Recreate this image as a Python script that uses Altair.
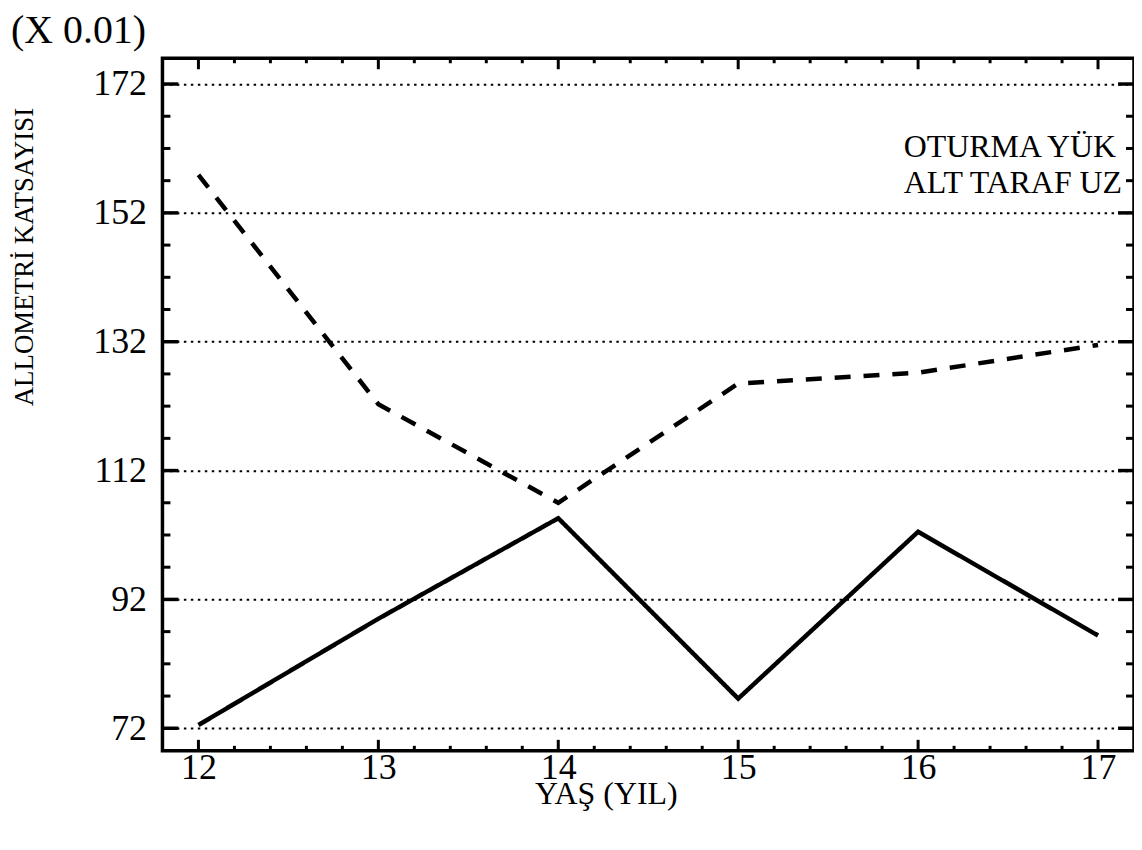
import altair as alt
import pandas as pd

# ---- data ----
ages = [12, 13, 14, 15, 16, 17]
oturma_yuk = [72.5, 89.0, 104.6, 76.6, 102.5, 86.4]      # solid line
alt_taraf_uz = [157.9, 122.3, 107.0, 125.5, 127.2, 131.5]  # dashed line
series_names = ["OTURMA YÜK", "ALT TARAF UZ"]

y_major = [72, 92, 112, 132, 152, 172]
y_minor = [77, 82, 87, 97, 102, 107, 117, 122, 127, 137, 142, 147,
           157, 162, 167]
x_major = [12, 13, 14, 15, 16, 17]
x_minor = [12.2, 12.4, 12.6, 12.8, 13.2, 13.4, 13.6, 13.8, 14.2, 14.4, 14.6, 14.8,
           15.2, 15.4, 15.6, 15.8, 16.2, 16.4, 16.6, 16.8]

X_DOMAIN = [11.8, 17.2]
Y_DOMAIN = [68.5, 176]
W, H = 975, 695
FONT = "Liberation Serif"

rows = []
for a, v in zip(ages, oturma_yuk):
    rows.append({"age": a, "value": v, "series": series_names[0]})
for a, v in zip(ages, alt_taraf_uz):
    rows.append({"age": a, "value": v, "series": series_names[1]})
df = pd.DataFrame(rows)


def xs():
    return alt.Scale(domain=X_DOMAIN, nice=False, zero=False)


def ys():
    return alt.Scale(domain=Y_DOMAIN, nice=False, zero=False)


# main layer: lines, labels, titles, dotted grid
main = alt.Chart(df).mark_line(color="black", strokeWidth=4.5).encode(
    x=alt.X("age:Q", scale=xs(),
            axis=alt.Axis(values=x_major, format="d", orient="bottom", domain=False,
                          ticks=False, tickSize=0, grid=False, labelFont=FONT,
                          labelFontSize=36, labelColor="black", labelPadding=0,
                          title="YAŞ (YIL)", titleFont=FONT, titleFontSize=32,
                          titleFontWeight="normal", titleColor="black",
                          titleX=445, titleY=43, titleAlign="center",
                          titleBaseline="middle")),
    y=alt.Y("value:Q", scale=ys(),
            axis=alt.Axis(values=y_major, format="d", orient="left", domain=False,
                          ticks=False, tickSize=0, grid=True, gridColor="black",
                          gridDash=[2.5, 4.5], gridWidth=2, gridOpacity=1,
                          labelFont=FONT, labelFontSize=36, labelColor="black",
                          labelPadding=16, title="ALLOMETRİ KATSAYISI",
                          titleFont=FONT, titleFontSize=27, titleFontWeight="normal",
                          titleColor="black", titleX=-138, titleY=199,
                          titleAngle=270, titleAlign="center",
                          titleBaseline="middle")),
    strokeDash=alt.StrokeDash(
        "series:N",
        scale=alt.Scale(domain=series_names, range=[[1, 0], [16, 13]]),
        legend=alt.Legend(orient="none", legendX=712, legendY=73, title=None,
                          labelFont=FONT, labelFontSize=32, labelColor="black",
                          labelLimit=400, symbolOpacity=0, symbolSize=1,
                          symbolStrokeWidth=0, labelOffset=0, padding=0,
                          rowPadding=4)),
)


def y_ticks(vals, p1, p2, width):
    d = pd.DataFrame({"value": vals})
    return alt.Chart(d).mark_rule(color="black", strokeWidth=width).encode(
        y=alt.Y("value:Q", scale=ys()),
        x=alt.value(p1), x2=alt.value(p2))


def x_ticks(vals, p1, p2, width):
    d = pd.DataFrame({"age": vals})
    return alt.Chart(d).mark_rule(color="black", strokeWidth=width).encode(
        x=alt.X("age:Q", scale=xs()),
        y=alt.value(p1), y2=alt.value(p2))


# inward axis ticks on all four sides (positions from the tick arrays)
tick_layers = [
    y_ticks(y_major, 0, 16, 3.5), y_ticks(y_minor, 0, 8, 3),
    y_ticks(y_major, W, W - 16, 3.5), y_ticks(y_minor, W, W - 8, 3),
    x_ticks(x_major, H, H - 11, 3), x_ticks(x_minor, H, H - 5, 3),
    x_ticks(x_major, 0, 11, 3), x_ticks(x_minor, 0, 5, 3),
]

chart = alt.layer(main, *tick_layers).properties(
    width=W, height=H,
    autosize=alt.AutoSizeParams(type="none"),
    padding={"left": 155, "top": 49, "right": 0, "bottom": 70},
    title=alt.TitleParams("(X 0.01)", anchor="start", font=FONT, fontSize=40,
                          fontWeight="normal", color="black", offset=6),
).configure(
    background="white"
).configure_view(
    stroke="black", strokeWidth=3.5
)

chart.save("out.html", embed_options={"renderer": "svg", "actions": False})
